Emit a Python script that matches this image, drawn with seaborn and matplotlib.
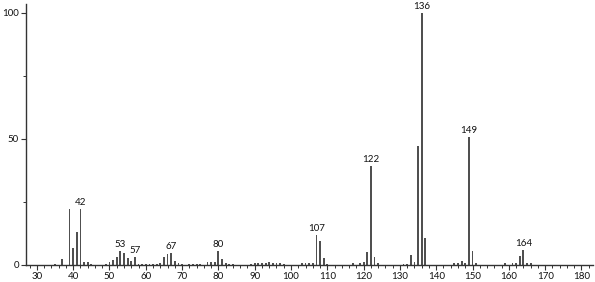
import matplotlib
matplotlib.use("Agg")
import matplotlib.pyplot as plt
import seaborn as sns
import pandas as pd
from matplotlib.ticker import MultipleLocator, FixedLocator

mz = [35, 37, 39, 40, 41, 42, 43, 44, 45,
      49, 50, 51, 52, 53, 54, 55, 56, 57, 58, 59, 60, 61, 62, 63, 64,
      65, 66, 67, 68, 69, 70, 72, 73, 74, 75,
      77, 78, 79, 80, 81, 82, 83, 84,
      89, 90, 91, 92, 93, 94, 95, 96, 97, 98,
      103, 104, 105, 106, 107, 108, 109, 110,
      117, 119, 120, 121, 122, 123, 124,
      131, 132, 133, 134, 135, 136, 137,
      145, 146, 147, 148, 149, 150, 151,
      159, 161, 162, 163, 164, 165, 166]
intensity = [0.5, 2.5, 22.2, 6.6, 13.0, 22.2, 1.0, 1.0, 0.5,
             0.5, 1.0, 2.0, 3.2, 5.7, 4.9, 2.9, 1.5, 3.2, 0.5, 0.5, 0.5, 0.5, 0.5, 0.5, 0.8,
             3.0, 4.5, 4.7, 1.5, 0.8, 0.5, 0.5, 0.5, 0.5, 0.5,
             1.2, 1.2, 1.0, 5.7, 2.4, 0.8, 0.5, 0.5,
             0.5, 0.6, 0.6, 0.7, 0.8, 1.2, 0.8, 0.7, 0.6, 0.5,
             0.7, 0.7, 0.7, 0.7, 11.7, 9.7, 2.7, 0.5,
             0.8, 0.6, 1.0, 5.3, 39.4, 3.3, 0.8,
             0.5, 0.5, 3.9, 1.2, 47.3, 100.0, 10.8,
             0.8, 0.8, 1.5, 0.8, 50.9, 5.6, 0.8,
             0.8, 0.8, 0.8, 3.6, 6.1, 0.8, 0.8]
labeled = [42, 53, 57, 67, 80, 107, 122, 136, 149, 164]
x_ticks = [30, 40, 50, 60, 70, 80, 90, 100, 110, 120, 130, 140, 150, 160, 170, 180]
y_ticks = [0, 50, 100]

df = pd.DataFrame({"mz": mz, "intensity": intensity})

sns.set_style("ticks")
plt.rcParams["font.family"] = ["Lato", "DejaVu Sans"]

fig = plt.figure(figsize=(5.95, 2.82), dpi=100)
ax = fig.add_axes([0.0437, 0.0603, 0.9530, 0.9257])

sns.barplot(data=df, x="mz", y="intensity", native_scale=True, width=0.5,
            color="#505050", linewidth=0, errorbar=None, ax=ax, saturation=1)

lookup = dict(zip(mz, intensity))
for m in labeled:
    ax.text(m, lookup[m] + 0.8, str(m), ha="center", va="bottom",
            fontsize=7, color="#111111")

ax.set_xlim(27, 183.2)
ax.set_ylim(0, 103.5)
ax.xaxis.set_major_locator(FixedLocator(x_ticks))
ax.xaxis.set_minor_locator(MultipleLocator(2))
ax.yaxis.set_major_locator(FixedLocator(y_ticks))
ax.yaxis.set_minor_locator(FixedLocator([25, 75]))
ax.set_xticklabels([str(t) for t in x_ticks])
ax.set_yticklabels([str(t) for t in y_ticks])
ax.set_xlabel("")
ax.set_ylabel("")
sns.despine(ax=ax)
for s in ["left", "bottom"]:
    ax.spines[s].set_color("#333333")
    ax.spines[s].set_linewidth(1.0)
ax.tick_params(axis="both", which="major", labelsize=7, length=3.5, width=0.8,
               color="#333333", pad=1.5, labelcolor="#111111")
ax.tick_params(axis="both", which="minor", length=2, width=0.7, color="#333333")

fig.savefig("out.png", dpi=100)
